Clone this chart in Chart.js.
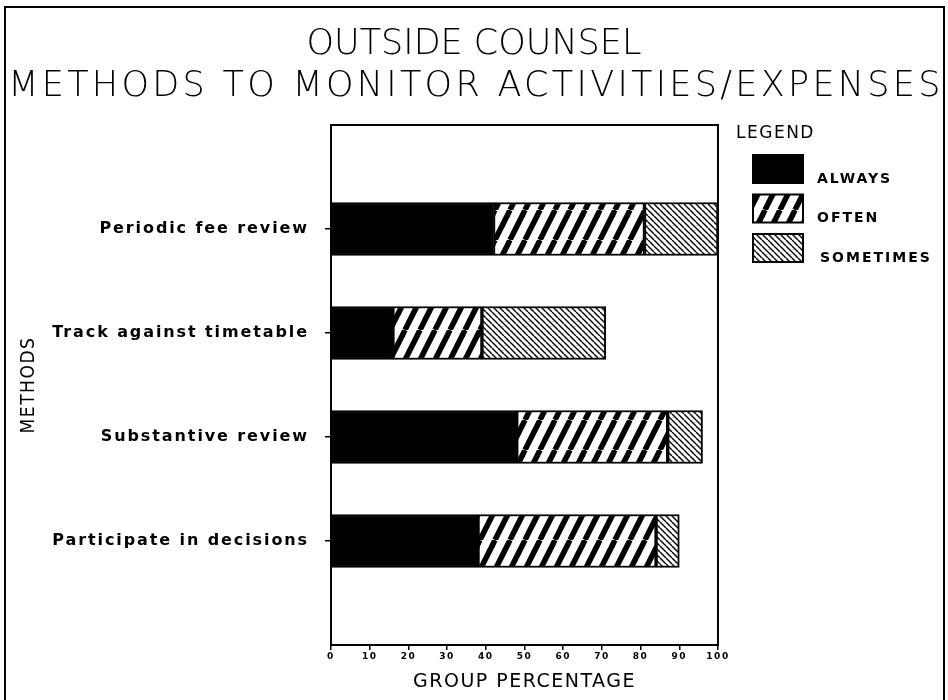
<!DOCTYPE html>
<html>
<head>
<meta charset="utf-8">
<script src="https://cdn.jsdelivr.net/npm/chart.js@4"></script>
<style>
  html, body { margin: 0; padding: 0; background: #fff; }
</style>
</head>
<body>
<canvas id="methodsChart" width="948" height="700"></canvas>
<script>
// data
const methods = ['Periodic fee review', 'Track against timetable', 'Substantive review', 'Participate in decisions'];
const always = [42, 16, 48, 38];
const often = [39, 23, 39, 46];
const sometimes = [19, 32, 9, 6];
const xTicks = [0, 10, 20, 30, 40, 50, 60, 70, 80, 90, 100];
const titleLines = ['OUTSIDE COUNSEL', 'METHODS TO MONITOR ACTIVITIES/EXPENSES'];

const canvas = document.getElementById('methodsChart');
const ctx = canvas.getContext('2d');

// hatch fills
function hatch(w, h, lineW, segs) {
    const c = document.createElement('canvas');
    c.width = w; c.height = h;
    const g = c.getContext('2d');
    g.fillStyle = '#fff';
    g.fillRect(0, 0, w, h);
    g.strokeStyle = '#000';
    g.lineWidth = lineW;
    segs.forEach(s => {
        g.beginPath();
        g.moveTo(s[0], s[1]);
        g.lineTo(s[2], s[3]);
        g.stroke();
    });
    return ctx.createPattern(c, 'repeat');
}
const oftenFill = hatch(15, 30, 5.5, [-15, 0, 15].map(k => [k, 30, k + 15, 0]));
const sometimesFill = hatch(6, 6, 1.4, [-6, 0, 6].map(k => [k, 0, k + 6, 6]));

const barStyle = { borderColor: '#000', borderWidth: 2, borderSkipped: false, barThickness: 53 };

const decor = {
    id: 'decor',
    beforeDraw(chart) {
        // axis titles and x tick labels
        chart.ctx.letterSpacing = '1.5px';
    },
    afterDatasetsDraw(chart) {
        // y tick labels are drawn after the bars (ticks.z = 1)
        chart.ctx.letterSpacing = '1.9px';
    },
    afterDraw(chart) {
        const c = chart.ctx;
        const a = chart.chartArea;
        c.save();
        c.strokeStyle = '#000';
        c.lineWidth = 2;
        // outer frame (no bottom edge in the scan)
        c.beginPath();
        c.moveTo(5, 700); c.lineTo(5, 7); c.lineTo(944, 7); c.lineTo(944, 700);
        c.stroke();
        // plot box
        c.strokeRect(a.left, a.top, a.right - a.left, a.bottom - a.top);

        // title
        c.fillStyle = '#000';
        c.textAlign = 'center';
        c.textBaseline = 'middle';
        c.font = '200 35px "DejaVu Sans"';
        c.letterSpacing = '0px';
        c.fillText(titleLines[0], 474, 45);
        c.letterSpacing = '3.3px';
        c.fillText(titleLines[1], 476, 87);

        // legend
        c.textAlign = 'left';
        c.letterSpacing = '1.5px';
        c.font = '17px "DejaVu Sans"';
        c.fillText('LEGEND', 736, 134);
        c.letterSpacing = '2px';
        c.font = 'bold 14px "DejaVu Sans"';
        chart.data.datasets.forEach((ds, i) => {
            const top = 155 + i * 39.5;
            c.fillStyle = ds.backgroundColor;
            c.fillRect(753, top, 50, 28);
            c.strokeRect(753, top, 50, 28);
            c.fillStyle = '#000';
            c.fillText(ds.label, 817 + (i === 2 ? 3 : 0), top + 24);
        });
        c.restore();
    }
};

new Chart(ctx, {
    type: 'bar',
    data: {
        datasets: [
            { label: 'ALWAYS', data: always.map((v, i) => ({ x: v, y: i })), backgroundColor: '#000', ...barStyle },
            { label: 'OFTEN', data: often.map((v, i) => ({ x: v, y: i })), backgroundColor: oftenFill, ...barStyle },
            { label: 'SOMETIMES', data: sometimes.map((v, i) => ({ x: v, y: i })), backgroundColor: sometimesFill, ...barStyle }
        ]
    },
    options: {
        indexAxis: 'y',
        responsive: false,
        animation: false,
        events: [],
        layout: { padding: { top: 125, right: 230, left: 0, bottom: 0 } },
        plugins: {
            legend: { display: false },
            title: { display: false },
            tooltip: { enabled: false }
        },
        scales: {
            x: {
                type: 'linear',
                min: 0,
                max: 100,
                stacked: true,
                afterBuildTicks: s => { s.ticks = xTicks.map(v => ({ value: v })); },
                afterFit: s => { s.height = 55; },
                ticks: { color: '#000', font: { family: 'DejaVu Sans', size: 9, weight: 'bold' }, padding: 1, maxRotation: 0 },
                grid: { drawOnChartArea: false, tickLength: 5, color: '#000', lineWidth: 1.5 },
                border: { color: '#000', width: 2 },
                title: {
                    display: true,
                    text: 'GROUP PERCENTAGE',
                    color: '#000',
                    font: { family: 'DejaVu Sans', size: 19 },
                    padding: { top: 0, bottom: 7 }
                }
            },
            y: {
                type: 'linear',
                min: -1,
                max: 4,
                reverse: true,
                stacked: true,
                offset: false,
                afterBuildTicks: s => { s.ticks = methods.map((m, i) => ({ value: i })); },
                afterFit: s => { s.width = 331; },
                ticks: {
                    z: 1,
                    color: '#000',
                    font: { family: 'DejaVu Sans', size: 16, weight: 'bold' },
                    padding: 16,
                    autoSkip: false,
                    callback: v => methods[v]
                },
                grid: { offset: false, drawOnChartArea: false, tickLength: 6, color: '#000', lineWidth: 1.5 },
                border: { color: '#000', width: 2 },
                title: {
                    display: true,
                    text: 'METHODS',
                    color: '#000',
                    font: { family: "'DejaVu Sans Condensed', 'DejaVu Sans', sans-serif", size: 19 },
                    padding: { top: 18, bottom: 0 }
                }
            }
        }
    },
    plugins: [decor]
});
</script>
</body>
</html>
